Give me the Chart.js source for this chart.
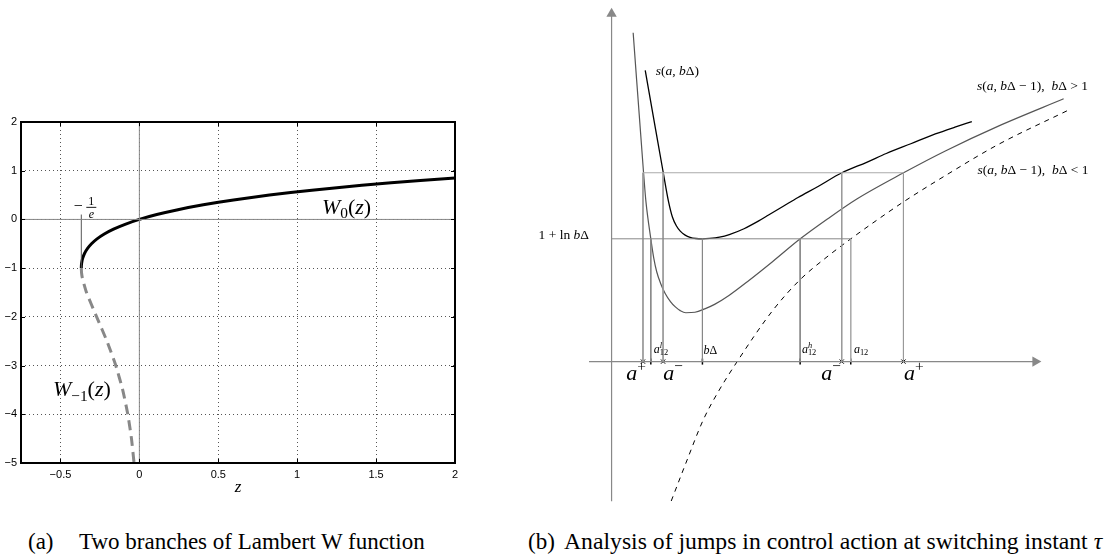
<!DOCTYPE html>
<html><head><meta charset="utf-8">
<script src="https://cdn.jsdelivr.net/npm/chart.js@4.4.0/dist/chart.umd.min.js"></script>
<style>
html,body{margin:0;padding:0;background:#fff;width:1114px;height:559px;overflow:hidden;position:relative;}
#ca{position:absolute;left:0;top:100px;}
#cb{position:absolute;left:480px;top:0;}
.cap{position:absolute;top:530px;font-family:"Liberation Serif","Times New Roman",serif;font-size:23px;line-height:23px;color:#000;white-space:nowrap;}
</style></head>
<body>
<canvas id="ca" width="480" height="410" style="width:480px;height:410px"></canvas>
<canvas id="cb" width="634" height="520" style="width:634px;height:520px"></canvas>
<div class="cap" style="left:28px">(a)</div>
<div class="cap" style="left:79px">Two branches of Lambert W function</div>
<div class="cap" style="left:528px">(b)</div>
<div class="cap" style="left:564px;font-size:23.7px">Analysis of jumps in control action at switching instant <i>τ</i></div>
<script>
// ---------- Panel (a): Lambert W ----------
const zW0  = [-0.3679,-0.3674,-0.3659,-0.3595,-0.3476,-0.3293,-0.3033,-0.2681,-0.2222,-0.1637,-0.0905,0,0.1105,0.2443,0.4050,0.5967,0.8244,1.0933,1.4096,1.7804,2.0];
const wW0  = [-1,-0.95,-0.9,-0.8,-0.7,-0.6,-0.5,-0.4,-0.3,-0.2,-0.1,0,0.1,0.2,0.3,0.4,0.5,0.6,0.7,0.8,0.8526];
const zWm1 = [-0.3679,-0.3662,-0.3614,-0.3347,-0.2707,-0.2052,-0.1494,-0.1057,-0.0733,-0.0500,-0.0337];
const wWm1 = [-1,-1.1,-1.2,-1.5,-2,-2.5,-3,-3.5,-4,-4.5,-5];
const zMark = [-0.3679,-0.3679];
const wMark = [-1,0.1];
const xTicksA = [-0.5,0,0.5,1,1.5,2];
const yTicksA = [-5,-4,-3,-2,-1,0,1,2];

// ---------- Panel (b): schematic ----------
const blackA = [0.343,0.45,0.527,0.58,0.62,0.66,0.70,0.75,0.80,0.86,0.926,1.0,1.1,1.2,1.35,1.5,1.6,1.75,1.9,2.1,2.347,2.6,2.8,3.05,3.3,3.5,3.672];
const blackS = [2.98,2.37,1.933,1.64,1.48,1.39,1.335,1.295,1.272,1.26,1.257,1.261,1.274,1.30,1.36,1.44,1.50,1.59,1.68,1.79,1.933,2.04,2.13,2.23,2.33,2.40,2.457];
const greyA  = [0.22,0.326,0.35,0.40,0.43,0.46,0.50,0.545,0.60,0.65,0.70,0.757,0.85,0.95,1.05,1.2,1.4,1.64,1.923,2.2,2.5,2.976,3.407,3.937,4.608];
const greyS  = [3.367,1.933,1.64,1.257,1.06,0.92,0.80,0.70,0.615,0.56,0.522,0.50,0.505,0.54,0.586,0.68,0.831,1.023,1.257,1.46,1.665,1.933,2.159,2.408,2.69];
const dashA  = [0.608,0.757,0.933,1.075,1.28,1.64,1.923,2.206,2.439,2.70,2.983,3.407,3.937,4.654];
const dashS  = [-1.427,-1.04,-0.60,-0.33,0,0.52,0.84,1.08,1.257,1.445,1.64,1.907,2.22,2.573];
const upperLevel = 1.933;          // s(a+) level
const lnLevel    = 1.257;          // 1 + ln bΔ
const upperA = [0.32,0.525,2.346,2.975];   // a+, a-, a-, a+
const lnA    = [0.40,0.926,1.922,2.438];   // a12^l, bΔ, a12^h, a12

const pts = (xs, ys) => xs.map((v,i)=>({x:v,y:ys[i]}));
const SERIF = '"Liberation Serif","Times New Roman",serif';

function drawRich(ctx, x, y, size, parts, align) {
  const segs = parts.map(p => {
    const k = p[1]; let s = size, dy = 0, st = '';
    if (k==='i'||k==='subi'||k==='supi') st = 'italic ';
    if (k==='sub'||k==='subi') { s = size*0.7; dy = size*0.2; }
    if (k==='sup'||k==='supi') { s = size*0.7; dy = -size*0.4; }
    return {t:p[0], font: st + s.toFixed(1) + 'px ' + SERIF, dy, nx: p[2]==='nx'};
  });
  let w = 0, pend = 0;
  segs.forEach(g => { ctx.font = g.font; g.w = ctx.measureText(g.t).width;
    if (g.nx) pend = g.w; else { g.adv = Math.max(g.w, pend); w += g.adv; pend = 0; } });
  let cx = align==='right' ? x - w : (align==='center' ? x - w/2 : x);
  ctx.save(); ctx.fillStyle = '#000'; ctx.textAlign = 'left'; ctx.textBaseline = 'alphabetic';
  segs.forEach(g => { ctx.font = g.font; ctx.fillText(g.t, cx, y + g.dy); if (!g.nx) cx += g.adv; });
  ctx.restore();
}

// ---- chart (a)
const frameA = {
  id:'frameA',
  afterDatasetsDraw(chart) {
    const {ctx, chartArea:a, scales:{x, y}} = chart;
    ctx.save();
    ctx.strokeStyle = '#000'; ctx.lineWidth = 1;
    ctx.beginPath();
    x.ticks.forEach(t => { const px = Math.round(x.getPixelForValue(t.value))+0.5;
      ctx.moveTo(px, a.bottom); ctx.lineTo(px, a.bottom-4); ctx.moveTo(px, a.top); ctx.lineTo(px, a.top+4); });
    y.ticks.forEach(t => { const py = Math.round(y.getPixelForValue(t.value))+0.5;
      ctx.moveTo(a.left, py); ctx.lineTo(a.left+4, py); ctx.moveTo(a.right, py); ctx.lineTo(a.right-4, py); });
    ctx.stroke();
    ctx.lineWidth = 2;
    ctx.strokeRect(a.left, a.top, a.right-a.left, a.bottom-a.top);
    // labels
    drawRich(ctx, x.getPixelForValue(1.157), y.getPixelForValue(0.11), 22,
      [['W','i'],['0','sub'],['(','r'],['z','i'],[')','r']], 'left');
    drawRich(ctx, x.getPixelForValue(-0.548), y.getPixelForValue(-3.63), 22,
      [['W','i'],['−1','sub'],['(','r'],['z','i'],[')','r']], 'left');
    // -1/e fraction
    const ax = x.getPixelForValue(zMark[0]), ay = y.getPixelForValue(wMark[1]);
    ctx.fillStyle = '#000';
    ctx.font = '16px ' + SERIF; ctx.textAlign = 'right'; ctx.textBaseline = 'alphabetic';
    ctx.fillText('−', ax + 1.5, ay - 4);
    ctx.textAlign = 'center';
    ctx.font = '12px ' + SERIF; ctx.fillText('1', ax + 10, ay - 9.4);
    ctx.font = 'italic 12px ' + SERIF; ctx.fillText('e', ax + 10, ay + 3);
    ctx.lineWidth = 0.9; ctx.beginPath(); ctx.moveTo(ax+5, ay-7.2); ctx.lineTo(ax+15, ay-7.2); ctx.stroke();
    ctx.restore();
  }
};

const fmt = v => String(v).replace('-', '−');
new Chart(document.getElementById('ca'), {
  type: 'scatter',
  data: { datasets: [
    {data:[{x:-0.75,y:0},{x:2,y:0}], showLine:true, borderColor:'#888', borderWidth:1, pointRadius:0},
    {data:[{x:0,y:-5},{x:0,y:2}], showLine:true, borderColor:'#888', borderWidth:1, pointRadius:0},
    {data:pts(zMark,wMark), showLine:true, borderColor:'#555', borderWidth:1, pointRadius:0},
    {data:pts(zWm1,wWm1), showLine:true, borderColor:'#888', borderWidth:3, borderDash:[10,6], pointRadius:0, tension:0.2},
    {data:pts(zW0,wW0), showLine:true, borderColor:'#000', borderWidth:3, pointRadius:0, tension:0.2}
  ]},
  options: {
    responsive:false, animation:false, events:[],
    layout:{padding:{top:22,right:25,left:0,bottom:0}},
    plugins:{legend:{display:false}, tooltip:{enabled:false}},
    scales: {
      x: {type:'linear', min:-0.75, max:2,
        afterBuildTicks: s => { s.ticks = xTicksA.map(v=>({value:v})); },
        afterFit: s => { s.height = 47; },
        ticks:{callback:fmt, font:{family:'"Liberation Sans",Arial,sans-serif', size:11}, color:'#000', padding:5, maxRotation:0, autoSkip:false},
        grid:{color:'#555', lineWidth:1, drawTicks:false},
        border:{display:false, dash:[1,3]},
        title:{display:true, text:'z', color:'#000', font:{family:SERIF, style:'italic', size:17}, padding:{top:0,bottom:12}}
      },
      y: {type:'linear', min:-5, max:2,
        afterBuildTicks: s => { s.ticks = yTicksA.map(v=>({value:v})); },
        afterFit: s => { s.width = 21; },
        ticks:{callback:fmt, font:{family:'"Liberation Sans",Arial,sans-serif', size:11}, color:'#000', padding:4},
        grid:{color:'#555', lineWidth:1, drawTicks:false},
        border:{display:false, dash:[1,3]}
      }
    }
  },
  plugins:[frameA]
});

// ---- chart (b)
const labelsB = {
  id:'labelsB',
  afterDatasetsDraw(chart) {
    const {ctx, scales:{x, y}} = chart;
    const P = (a, s) => [x.getPixelForValue(a), y.getPixelForValue(s)];
    let p;
    p = P(0.45, 2.93);  drawRich(ctx, p[0], p[1], 13.5, [['s','i'],['(','r'],['a','i'],[', ','r'],['b','i'],['Δ)','r']], 'left');
    p = P(3.725, 2.78); drawRich(ctx, p[0], p[1], 13.5, [['s','i'],['(','r'],['a','i'],[', ','r'],['b','i'],['Δ − 1),  ','r'],['b','i'],['Δ > 1','r']], 'left');
    p = P(3.73, 1.92);  drawRich(ctx, p[0], p[1], 13.5, [['s','i'],['(','r'],['a','i'],[', ','r'],['b','i'],['Δ − 1),  ','r'],['b','i'],['Δ < 1','r']], 'left');
    p = P(-0.23, 1.26); drawRich(ctx, p[0], p[1], 13.5, [['1 + ln ','r'],['b','i'],['Δ','r']], 'right');
    p = P(0.43, 0.09);  drawRich(ctx, p[0], p[1], 12, [['a','i'],['l','supi','nx'],['12','sub']], 'left');
    p = P(0.937, 0.08); drawRich(ctx, p[0], p[1], 12, [['b','i'],['Δ','r']], 'left');
    p = P(1.94, 0.09);  drawRich(ctx, p[0], p[1], 12, [['a','i'],['h','supi','nx'],['12','sub']], 'left');
    p = P(2.47, 0.09);  drawRich(ctx, p[0], p[1], 12, [['a','i'],['12','sub']], 'left');
    p = P(0.15, -0.19); drawRich(ctx, p[0], p[1], 22, [['a','i'],['+','sup']], 'left');
    p = P(0.527, -0.19);drawRich(ctx, p[0], p[1], 22, [['a','i'],['−','sup']], 'left');
    p = P(2.137, -0.19);drawRich(ctx, p[0], p[1], 22, [['a','i'],['−','sup']], 'left');
    p = P(2.98, -0.19); drawRich(ctx, p[0], p[1], 22, [['a','i'],['+','sup']], 'left');
  }
};

const guide = (data, color) => ({data, showLine:true, borderColor:color, borderWidth:1, pointRadius:0});
const dsB = [];
dsB.push(guide([{x:upperA[0],y:upperLevel},{x:upperA[3],y:upperLevel}], '#aaa'));
dsB.push(guide([{x:0,y:lnLevel},{x:lnA[3],y:lnLevel}], '#888'));
upperA.forEach(a => dsB.push(guide([{x:a,y:upperLevel},{x:a,y:0}], '#999')));
lnA.forEach((a,i) => dsB.push(guide([{x:a,y:lnLevel},{x:a,y:0}], i===3 ? '#aaa' : '#888')));
// axes with arrow heads
dsB.push({data:[{x:0,y:-1.43},{x:0,y:3.56}], showLine:true, borderColor:'#888', borderWidth:1.2,
  pointRadius:[0,6], pointStyle:'triangle', pointRotation:0, pointBackgroundColor:'#888', pointBorderColor:'#888', pointBorderWidth:0});
dsB.push({data:[{x:-0.23,y:0},{x:4.32,y:0}], showLine:true, borderColor:'#888', borderWidth:1.2,
  pointRadius:[0,6], pointStyle:'triangle', pointRotation:90, pointBackgroundColor:'#888', pointBorderColor:'#888', pointBorderWidth:0});
// curves
dsB.push({data:pts(dashA,dashS), showLine:true, borderColor:'#000', borderWidth:1, borderDash:[5,5], pointRadius:0, cubicInterpolationMode:'monotone'});
dsB.push({data:pts(greyA,greyS), showLine:true, borderColor:'#555', borderWidth:1.2, pointRadius:0, cubicInterpolationMode:'monotone'});
dsB.push({data:pts(blackA,blackS), showLine:true, borderColor:'#000', borderWidth:1.3, pointRadius:0, cubicInterpolationMode:'monotone'});
// markers on the a-axis
dsB.push({data:upperA.map(a=>({x:a,y:0})), showLine:false, pointStyle:'crossRot', pointRadius:3, borderColor:'#000', pointBorderWidth:1});
dsB.push({data:lnA.map(a=>({x:a,y:0})), showLine:false, pointStyle:'line', pointRotation:90, pointRadius:3, borderColor:'#000', pointBorderWidth:1.5});

new Chart(document.getElementById('cb'), {
  type:'scatter',
  data:{datasets:dsB},
  options:{
    responsive:false, animation:false, events:[],
    layout:{padding:0},
    plugins:{legend:{display:false}, tooltip:{enabled:false}},
    scales:{
      x:{type:'linear', display:false, min:-1.28, max:5.06},
      y:{type:'linear', display:false, min:-1.56, max:3.64}
    }
  },
  plugins:[labelsB]
});
</script>
</body></html>
